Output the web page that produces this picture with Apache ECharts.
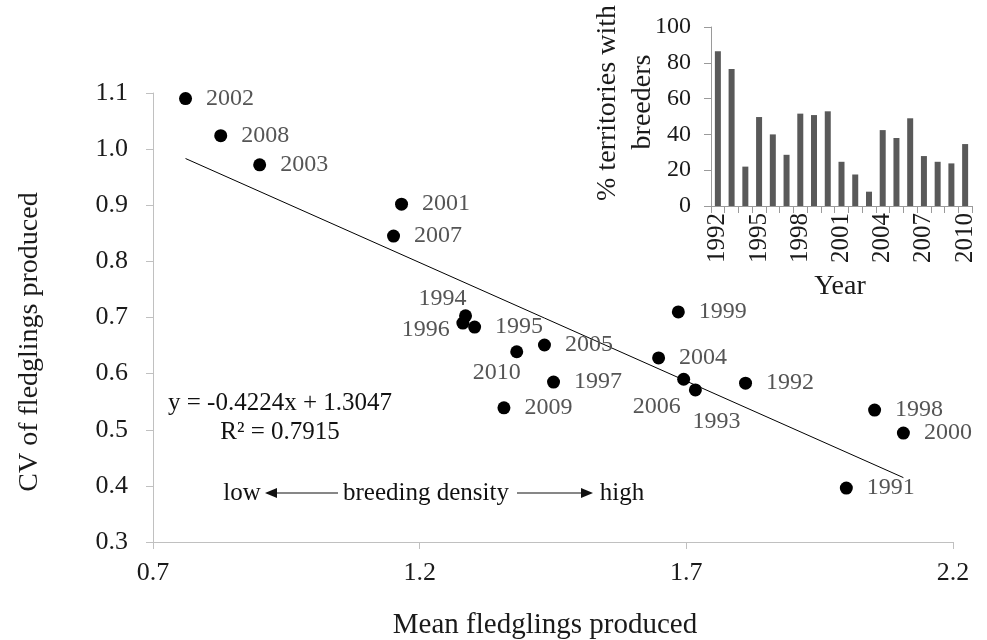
<!DOCTYPE html>
<html>
<head>
<meta charset="utf-8">
<script src="https://cdn.jsdelivr.net/npm/echarts@6/dist/echarts.min.js"></script>
<style>
  html, body { margin: 0; padding: 0; background: #fff; }
  #chart { width: 987px; height: 640px; }
</style>
</head>
<body>
<div id="chart"></div>
<script>
// main scatter: mean fledglings vs CV, one point per year
var years = ['2002', '2008', '2003', '2001', '2007', '1994', '1996', '1995', '2010', '2005',
             '1997', '2009', '1999', '2004', '2006', '1993', '1992', '1998', '2000', '1991'];
var meanFledglings = [0.761, 0.827, 0.900, 1.166, 1.151, 1.286, 1.281, 1.303, 1.382, 1.434,
                      1.451, 1.358, 1.685, 1.648, 1.695, 1.717, 1.811, 2.053, 2.107, 2.000];
var cvFledglings = [1.090, 1.024, 0.972, 0.902, 0.845, 0.703, 0.690, 0.683, 0.639, 0.651,
                    0.585, 0.539, 0.710, 0.628, 0.590, 0.571, 0.583, 0.535, 0.494, 0.396];

// linear fit shown on the chart
var slope = -0.4224;
var intercept = 1.3047;
var r2 = 0.7915;

// inset: % territories with breeders per year
var insetYears = ['1992', '1993', '1994', '1995', '1996', '1997', '1998', '1999', '2000', '2001',
                  '2002', '2003', '2004', '2005', '2006', '2007', '2008', '2009', '2010'];
var pctBreeders = [86.5, 76.5, 22, 49.7, 40, 28.6, 51.6, 50.8, 52.9, 24.7,
                   17.6, 8, 42.4, 38, 49, 27.9, 24.7, 23.8, 34.6];

var serif = 'Liberation Serif';
var axisGray = '#c0c0c0';

// labels that are not simply to the right of their point (offset from point centre)
var labelShift = {
  '1994': [-23, -17],
  '1996': [-37, 7],
  '2010': [-20, 21],
  '2006': [-27, 27],
  '1993': [21, 32]
};

var scatterData = years.map(function (y, i) {
  var item = { value: [meanFledglings[i], cvFledglings[i]], name: y };
  if (labelShift[y]) {
    item.label = { position: 'inside', offset: labelShift[y] };
  }
  return item;
});

var xMin = Math.min.apply(null, meanFledglings);
var xMax = Math.max.apply(null, meanFledglings);
var fitLine = [[xMin, slope * xMin + intercept], [xMax, slope * xMax + intercept]];

var chart = echarts.init(document.getElementById('chart'));

var option = {
  animation: false,
  backgroundColor: '#fff',
  grid: [
    { left: 153, top: 93, width: 800, height: 449 },
    { left: 711, top: 27, width: 261, height: 179 }
  ],
  xAxis: [
    {
      type: 'value', gridIndex: 0, min: 0.7, max: 2.2, interval: 0.5,
      splitLine: { show: false },
      axisLine: { show: true, lineStyle: { color: axisGray } },
      axisTick: { show: true, length: 7, lineStyle: { color: axisGray } },
      axisLabel: {
        margin: 18, fontFamily: serif, fontSize: 26, color: '#1a1a1a',
        formatter: function (v) { return v.toFixed(1); }
      }
    },
    {
      type: 'category', gridIndex: 1, data: insetYears,
      boundaryGap: true,
      axisLine: { show: true, lineStyle: { color: '#9a9a9a' } },
      axisTick: { show: true, interval: 0, length: 7, lineStyle: { color: '#9a9a9a' } },
      axisLabel: {
        interval: 2, rotate: 90, margin: 7,
        fontFamily: serif, fontSize: 25, color: '#1a1a1a'
      }
    }
  ],
  yAxis: [
    {
      type: 'value', gridIndex: 0, min: 0.3, max: 1.1, interval: 0.1,
      splitLine: { show: false },
      axisLine: { show: true, lineStyle: { color: axisGray } },
      axisTick: { show: true, length: 7, lineStyle: { color: axisGray } },
      axisLabel: {
        margin: 25, fontFamily: serif, fontSize: 26, color: '#1a1a1a',
        formatter: function (v) { return v.toFixed(1); }
      }
    },
    {
      type: 'value', gridIndex: 1, min: 0, max: 100, interval: 20,
      splitLine: { show: false },
      axisLine: { show: true, lineStyle: { color: '#9a9a9a' } },
      axisTick: { show: true, length: 7, lineStyle: { color: '#9a9a9a' } },
      axisLabel: { margin: 20, fontFamily: serif, fontSize: 24, color: '#1a1a1a' }
    }
  ],
  series: [
    {
      name: 'fit', type: 'line', xAxisIndex: 0, yAxisIndex: 0,
      data: fitLine, symbol: 'none',
      lineStyle: { color: '#000', width: 1 },
      z: 1
    },
    {
      name: 'years', type: 'scatter', xAxisIndex: 0, yAxisIndex: 0,
      data: scatterData, symbolSize: 13,
      itemStyle: { color: '#000', opacity: 1 },
      label: {
        show: true, position: 'right', distance: 14,
        formatter: '{b}',
        fontFamily: serif, fontSize: 24, lineHeight: 24, color: '#555'
      },
      z: 3
    },
    {
      name: 'breeders', type: 'bar', xAxisIndex: 1, yAxisIndex: 1,
      data: pctBreeders, barWidth: 6,
      itemStyle: { color: '#595959' }
    }
  ],
  graphic: [
    // axis titles
    { type: 'text', x: 545, y: 625, style: { text: 'Mean fledglings produced', font: '29px "Liberation Serif"', fill: '#1a1a1a', textAlign: 'center', textVerticalAlign: 'middle' } },
    { type: 'text', x: 30, y: 342, rotation: Math.PI / 2, style: { text: 'CV of fledglings produced', font: '28px "Liberation Serif"', fill: '#1a1a1a', textAlign: 'center', textVerticalAlign: 'middle' } },
    { type: 'text', x: 840, y: 287, style: { text: 'Year', font: '28px "Liberation Serif"', fill: '#1a1a1a', textAlign: 'center', textVerticalAlign: 'middle' } },
    { type: 'text', x: 608, y: 103, rotation: Math.PI / 2, style: { text: '% territories with', font: '28px "Liberation Serif"', fill: '#1a1a1a', textAlign: 'center', textVerticalAlign: 'middle' } },
    { type: 'text', x: 643, y: 102, rotation: Math.PI / 2, style: { text: 'breeders', font: '28px "Liberation Serif"', fill: '#1a1a1a', textAlign: 'center', textVerticalAlign: 'middle' } },
    // regression equation
    { type: 'text', x: 280, y: 403, style: { text: 'y = ' + slope + 'x + ' + intercept, font: '25px "Liberation Serif"', fill: '#111', textAlign: 'center', textVerticalAlign: 'middle' } },
    { type: 'text', x: 280, y: 432, style: { text: 'R\u00b2 = ' + r2, font: '25px "Liberation Serif"', fill: '#111', textAlign: 'center', textVerticalAlign: 'middle' } },
    // breeding density annotation
    { type: 'text', x: 242, y: 493, style: { text: 'low', font: '25px "Liberation Serif"', fill: '#111', textAlign: 'center', textVerticalAlign: 'middle' } },
    { type: 'text', x: 426, y: 493, style: { text: 'breeding density', font: '25px "Liberation Serif"', fill: '#111', textAlign: 'center', textVerticalAlign: 'middle' } },
    { type: 'text', x: 622, y: 493, style: { text: 'high', font: '25px "Liberation Serif"', fill: '#111', textAlign: 'center', textVerticalAlign: 'middle' } },
    { type: 'line', shape: { x1: 275, y1: 493, x2: 338, y2: 493 }, style: { stroke: '#111', lineWidth: 1.2 } },
    { type: 'polygon', shape: { points: [[265, 493], [277, 488], [277, 498]] }, style: { fill: '#111' } },
    { type: 'line', shape: { x1: 517, y1: 493, x2: 583, y2: 493 }, style: { stroke: '#111', lineWidth: 1.2 } },
    { type: 'polygon', shape: { points: [[593, 493], [581, 488], [581, 498]] }, style: { fill: '#111' } }
  ]
};

chart.setOption(option);
</script>
</body>
</html>
